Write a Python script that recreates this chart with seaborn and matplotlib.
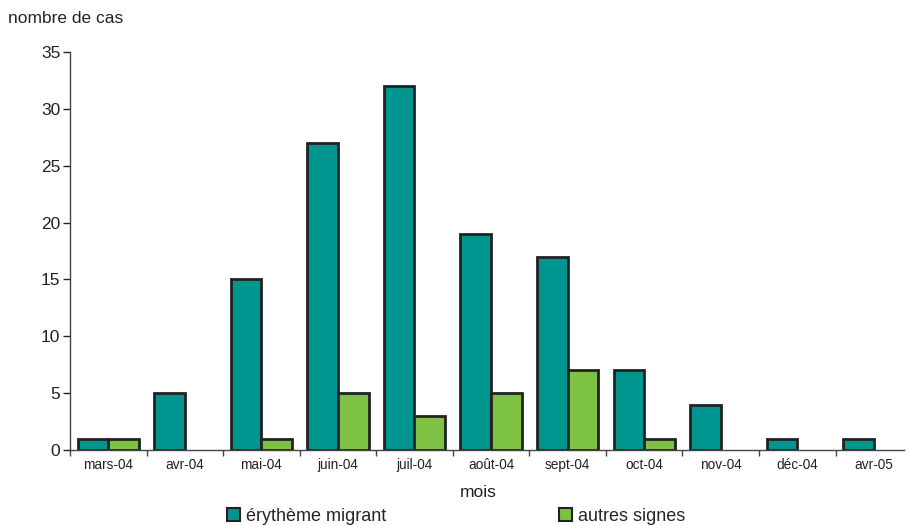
import matplotlib
matplotlib.use("Agg")
import matplotlib.pyplot as plt
import seaborn as sns
import pandas as pd
import numpy as np
from matplotlib.ticker import FixedLocator

# Monthly case counts
mois = ["mars-04", "avr-04", "mai-04", "juin-04", "juil-04", "août-04",
        "sept-04", "oct-04", "nov-04", "déc-04", "avr-05"]
erytheme = [1, 5, 15, 27, 32, 19, 17, 7, 4, 1, 1]
autres = [1, 0, 1, 5, 3, 5, 7, 1, 0, 0, 0]
series = ["érythème migrant", "autres signes"]
couleurs = ["#00968F", "#7DC242"]

df = pd.DataFrame({
    "mois": mois * 2,
    "cas": erytheme + autres,
    "type": [series[0]] * len(mois) + [series[1]] * len(mois),
})

sns.set_style("white")
plt.rcParams["font.family"] = ["Liberation Sans", "DejaVu Sans"]

fig = plt.figure(figsize=(9.09, 5.26), dpi=100)
ax = fig.add_axes([0.077, 0.1445, 0.918, 0.7565])

sns.barplot(data=df, x="mois", y="cas", hue="type", palette=couleurs,
            edgecolor="#222222", linewidth=2, width=0.8, saturation=1,
            ax=ax, legend=True)

# hide outlines of empty bars
for p in ax.patches:
    if p.get_height() == 0:
        p.set_linewidth(0)

ax.set_ylim(0, 35)
ax.set_xlim(-0.5, len(mois) - 0.6)
ax.set_yticks(np.arange(0, 36, 5))
ax.tick_params(axis="y", labelsize=12.5, length=5, width=1, direction="out",
               left=True, colors="#222222", pad=2)
ax.tick_params(axis="x", which="major", length=0, labelsize=9.8, pad=6,
               colors="#222222")
ax.xaxis.set_minor_locator(FixedLocator(np.arange(-0.5, len(mois) - 0.6, 1)))
ax.tick_params(axis="x", which="minor", length=4, width=1, bottom=True,
               direction="out", color="#444444")

for s in ["top", "right"]:
    ax.spines[s].set_visible(False)
for s in ["left", "bottom"]:
    ax.spines[s].set_color("#444444")
    ax.spines[s].set_linewidth(1)

ax.set_xlabel("")
ax.set_ylabel("")
fig.text(0.009, 0.965, "nombre de cas", fontsize=12.5, ha="left", va="center",
         color="#222222")
fig.text(0.526, 0.064, "mois", fontsize=12.5, ha="center", va="center",
         color="#222222")

handles, labels = ax.get_legend_handles_labels()
ax.get_legend().remove()
for h in handles:
    h.set_edgecolor("#222222")
    h.set_linewidth(1.5)
fig.legend(handles, labels, loc="center", bbox_to_anchor=(0.502, 0.018),
           ncol=2, frameon=False, fontsize=13, columnspacing=9.6,
           handlelength=0.7, handleheight=0.7, handletextpad=0.35,
           borderaxespad=0)

fig.savefig("out.png", dpi=100)
